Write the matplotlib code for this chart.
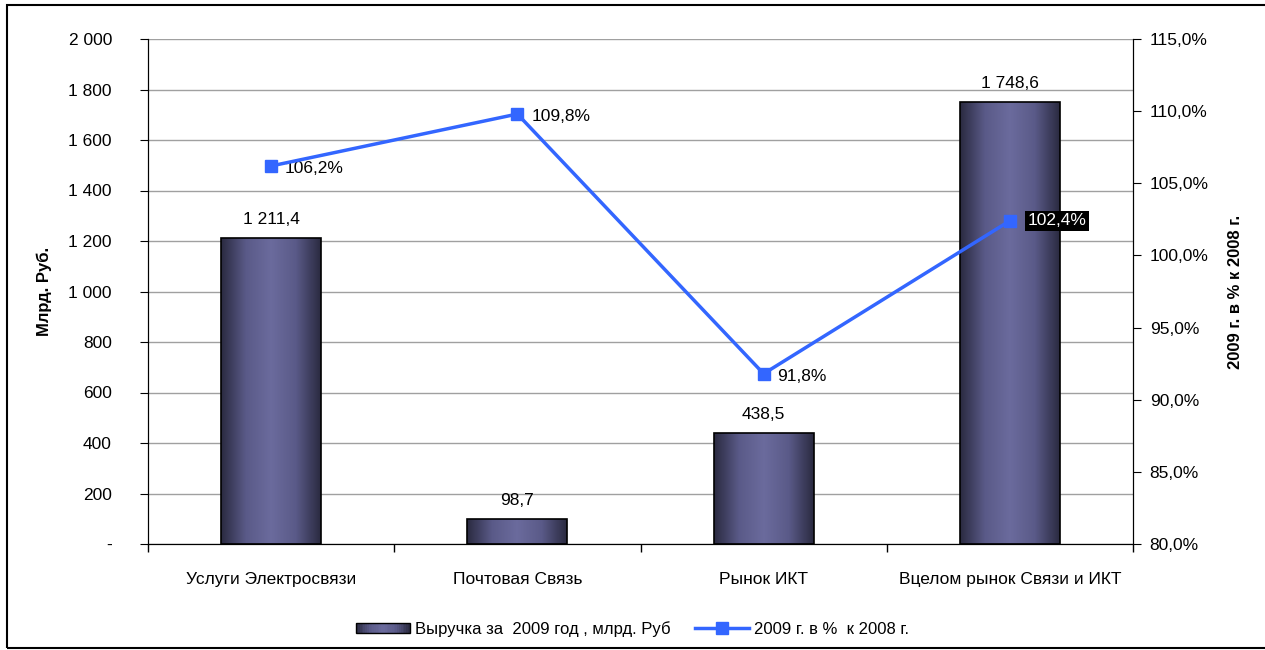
import matplotlib
matplotlib.use("Agg")
import matplotlib.pyplot as plt
import numpy as np
from matplotlib.colors import LinearSegmentedColormap
from matplotlib.legend_handler import HandlerBase
from matplotlib.patches import Rectangle
from matplotlib.ticker import FuncFormatter, FixedLocator

plt.rcParams["font.family"] = ["Liberation Sans", "DejaVu Sans"]

categories = ["Услуги Электросвязи", "Почтовая Связь", "Рынок ИКТ", "Вцелом рынок Связи и ИКТ"]
revenue = [1211.4, 98.7, 438.5, 1748.6]
growth = [106.2, 109.8, 91.8, 102.4]
revenue_labels = ["1 211,4", "98,7", "438,5", "1 748,6"]
growth_labels = ["106,2%", "109,8%", "91,8%", "102,4%"]
bar_name = "Выручка за  2009 год , млрд. Руб"
line_name = "2009 г. в %  к 2008 г."

line_color = "#3366ff"
grad = LinearSegmentedColormap.from_list("bar", ["#2a2a40", "#5a5a88", "#6b6b9d", "#5a5a88", "#2a2a40"])


class GradientHandler(HandlerBase):
    # legend key drawn as a row of thin strips, same shading as the bars
    def create_artists(self, legend, orig_handle, xdescent, ydescent, width, height, fontsize, trans):
        n = 30
        out = []
        for i in range(n):
            out.append(Rectangle((-xdescent + width * i / n, -ydescent), width / n + 0.3, height,
                                 facecolor=grad((i + 0.5) / n), edgecolor="none", transform=trans))
        out.append(Rectangle((-xdescent, -ydescent), width, height, fill=False,
                             edgecolor="black", linewidth=1, transform=trans))
        return out


fig = plt.figure(figsize=(12.65, 6.5), dpi=100)
fig.patches.append(Rectangle((7 / 1265, 2 / 650), 1.0, 643 / 650, transform=fig.transFigure,
                             fill=False, edgecolor="black", linewidth=1.5))

ax = fig.add_axes([148 / 1265, 1 - 544 / 650, (1133 - 148) / 1265, (544 - 39) / 650])
ax2 = ax.twinx()

x = np.arange(len(categories))
bars = ax.bar(x, revenue, width=0.406, color="none", edgecolor="black", linewidth=1.2, zorder=3)
gradient = np.linspace(0, 1, 256).reshape(1, -1)
for b in bars:
    x0, y0 = b.get_x(), b.get_y()
    w, h = b.get_width(), b.get_height()
    im = ax.imshow(gradient, cmap=grad, aspect="auto", extent=[x0, x0 + w, y0, y0 + h], zorder=2)
    im.set_clip_path(b)

for xi, v, lab in zip(x, revenue, revenue_labels):
    ax.annotate(lab, (xi, v), xytext=(0, 8), textcoords="offset points",
                ha="center", va="bottom", fontsize=12.5)

ax.set_xlim(-0.5, len(categories) - 0.5)
ax.set_ylim(0, 2000)
ax.set_yticks(np.arange(0, 2001, 200))
ax.yaxis.set_major_formatter(FuncFormatter(lambda v, p: "-" if v == 0 else f"{int(v):,}".replace(",", " ")))
ax.grid(axis="y", color="#a0a0a0", linewidth=1, zorder=0)
ax.set_axisbelow(True)

ax.xaxis.set_major_locator(FixedLocator(np.arange(-0.5, len(categories), 1.0)))
ax.set_xticklabels([])
ax.xaxis.set_minor_locator(FixedLocator(x))
ax.set_xticklabels(categories, minor=True, fontsize=12.5)
ax.tick_params(axis="x", which="major", direction="out", length=6, width=1)
ax.tick_params(axis="x", which="minor", length=0, pad=20)
ax.tick_params(axis="y", direction="out", length=6, labelsize=12.5, pad=20)
ax.set_ylabel("Млрд. Руб.", fontsize=12, fontweight="bold", labelpad=12)

ax2.plot(x, growth, color=line_color, linewidth=2.5, marker="s", markersize=9, zorder=4)
ax2.set_ylim(80, 115)
ax2.set_yticks(np.arange(80, 115.1, 5))
ax2.yaxis.set_major_formatter(FuncFormatter(lambda v, p: f"{v:.1f}%".replace(".", ",")))
ax2.tick_params(axis="y", direction="out", length=6, labelsize=12.5, pad=6)
ax2.set_ylabel("2009 г. в % к 2008 г.", fontsize=12, fontweight="bold", labelpad=14)

for i, (xi, v, lab) in enumerate(zip(x, growth, growth_labels)):
    if i == len(growth) - 1:
        ax2.annotate(lab, (xi, v), xytext=(13, 0), textcoords="offset points", ha="left", va="center",
                     fontsize=12.5, color="white",
                     bbox=dict(boxstyle="square,pad=0.15", facecolor="black", edgecolor="none"))
    else:
        ax2.annotate(lab, (xi, v), xytext=(10, -2), textcoords="offset points", ha="left", va="center",
                     fontsize=12.5)

for a in (ax, ax2):
    a.spines["top"].set_visible(False)
    a.spines["left"].set_color("black")
    a.spines["right"].set_color("black")
    a.spines["bottom"].set_color("black")

bar_key = Rectangle((0, 0), 1, 1)
line_key = plt.Line2D([], [], color=line_color, linewidth=2.5, marker="s", markersize=9)
fig.legend([bar_key, line_key], [bar_name, line_name], loc="center", bbox_to_anchor=(0.5, 1 - 629 / 650),
           ncol=2, frameon=False, fontsize=12, handlelength=3.2, handleheight=0.6, handletextpad=0.3,
           columnspacing=1.5, handler_map={Rectangle: GradientHandler()})

fig.savefig("out.png", dpi=100)
